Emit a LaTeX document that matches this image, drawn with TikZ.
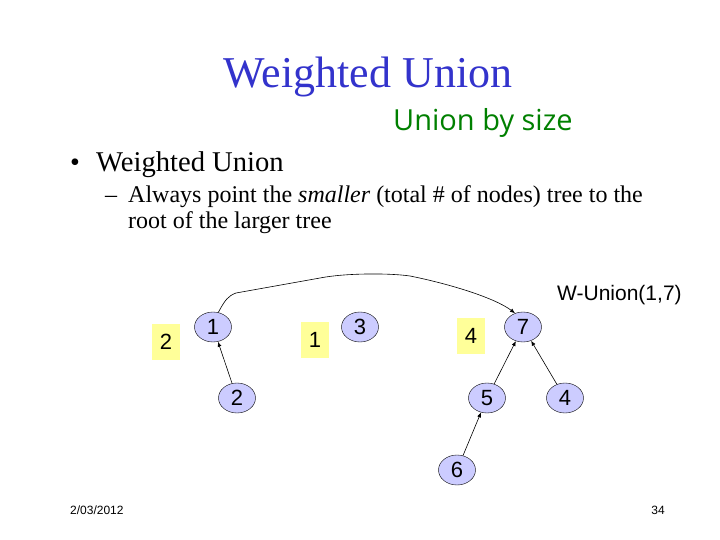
\documentclass[tikz,border=0pt]{standalone}
\usepackage{fontspec}
\setmainfont{Liberation Serif}
\setsansfont{Liberation Sans}
\newfontfamily\handfont{Open Sans}
\usetikzlibrary{shapes.geometric,arrows.meta,positioning}
\definecolor{titleblue}{RGB}{51,51,204}
\definecolor{handgreen}{RGB}{0,128,0}
\definecolor{nodefill}{RGB}{204,204,255}
\definecolor{sizefill}{RGB}{255,255,153}
\tikzset{
  vertex/.style={ellipse, draw, thin, fill=nodefill, minimum width=37pt, minimum height=30pt, inner sep=0pt, font=\sffamily\fontsize{22}{26}\selectfont},
  sizebox/.style={fill=sizefill, minimum width=28pt, minimum height=36pt, inner sep=0pt, font=\sffamily\fontsize{22}{26}\selectfont},
  txt/.style={anchor=base west, inner sep=0pt}
}
\begin{document}
\begin{tikzpicture}[x=1pt, y=-1pt, >={Latex[length=5pt,width=4pt]}]
\useasboundingbox[fill=white] (0,0) rectangle (720,540);
% title and text
\node[anchor=base, inner sep=0pt, titleblue, font=\fontsize{44}{50}\selectfont] (title) at (368,88) {Weighted Union};
\node[txt, handgreen, font=\handfont\fontsize{29}{32}\selectfont] (hand) at (393,131) {Union by size};
\node[txt, font=\fontsize{28}{32}\selectfont] (bullet) at (70,172) {\textbullet};
\node[txt, font=\fontsize{28.6}{32}\selectfont] (head) at (96,172) {Weighted Union};
\node[txt, font=\fontsize{24}{28}\selectfont] (dash) at (105,203) {--};
\node[txt, font=\fontsize{24}{28}\selectfont] (line1) at (128,203) {Always point the \textit{smaller} (total \# of nodes) tree to the};
\node[txt, font=\fontsize{24}{28}\selectfont] (line2) at (128,229) {root of the larger tree};
\node[txt, font=\sffamily\fontsize{21}{24}\selectfont] (call) at (557,300) {W-Union(1,7)};
% size boxes
\foreach \x/\y/\v in {166/342/2, 315/340/1, 471/336/4}{\node[sizebox] (s\v) at (\x,\y) {\v};}
% tree nodes
\foreach \x/\y/\name in {213/327/1, 360/327/3, 523/327/7, 237/398/2, 487/398/5, 565/398/4, 457/470/6}{\node[vertex] (n\name) at (\x,\y) {\name};}
\foreach \a/\b in {2/1, 5/7, 4/7, 6/5}\draw[->, line width=0.6pt] (n\a) -- (n\b);
\draw[->, line width=0.6pt] (n1.70) .. controls (225,300) and (228,296) .. (236,293) -- (320,278) .. controls (345,273) and (390,273) .. (410,276) .. controls (450,284) and (495,298) .. (n7.120);
% footer
\node[txt, font=\sffamily\fontsize{12}{14}\selectfont] (date) at (70,514) {2/03/2012};
\node[anchor=base east, inner sep=0pt, font=\sffamily\fontsize{12}{14}\selectfont] (page) at (665,514) {34};
\end{tikzpicture}
\end{document}
